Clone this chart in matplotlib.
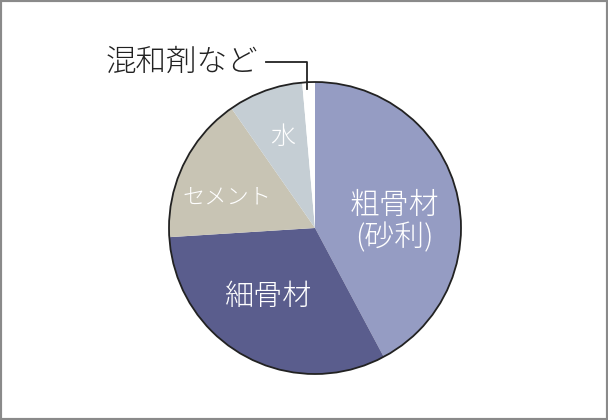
import matplotlib.pyplot as plt
from matplotlib.patches import Circle, Rectangle

plt.rcParams['font.family'] = ['Noto Sans CJK JP', 'DejaVu Sans']

# concrete mix, share of volume (%), clockwise from the top
labels = ["粗骨材\n(砂利)", "細骨材", "セメント", "水", "混和剤など"]
shares = [42.2, 31.8, 16.3, 8.3, 1.4]
colors = ["#959cc3", "#5a5d8d", "#c8c4b4", "#c5ced4", "#ffffff"]

W, H = 608, 420
fig = plt.figure(figsize=(W / 100, H / 100), dpi=100)
ax = fig.add_axes([0, 0, 1, 1])

cx, cy, r = 315, 228, 146
# y axis is flipped below, so 270 is "up" and counterclock draws clockwise
wedges, _ = ax.pie(shares, colors=colors, startangle=270, counterclock=True,
                   center=(cx, cy), radius=r, frame=True,
                   wedgeprops=dict(linewidth=0))
ax.set_xlim(0, W)
ax.set_ylim(H, 0)
ax.set_aspect("equal")
ax.axis("off")
ax.add_patch(Circle((cx, cy), r, fill=False, edgecolor="#222222", lw=1.3))

# labels inside slices
ax.text(394, 222, labels[0], color="white", fontsize=21.5, ha="center",
        va="center", linespacing=1.1, fontweight="light")
ax.text(268, 297, labels[1], color="white", fontsize=21, ha="center",
        va="center", fontweight="light")
ax.text(227, 198, labels[2], color="white", fontsize=16, ha="center",
        va="center", fontweight="light")
ax.text(283, 137, labels[3], color="white", fontsize=18, ha="center",
        va="center", fontweight="light")

# small slice with leader line
ax.text(182, 62, labels[4], color="#222222", fontsize=22, ha="center",
        va="center", fontweight="light")
ax.plot([266, 307, 307], [62, 62, 89], color="#222222", lw=1.3)

# frame around the picture
fig.patches.append(Rectangle((0, 0), 1, 1, transform=fig.transFigure,
                             fill=False, edgecolor="#8a8a8a", lw=3))

fig.savefig("out.png", dpi=100)
